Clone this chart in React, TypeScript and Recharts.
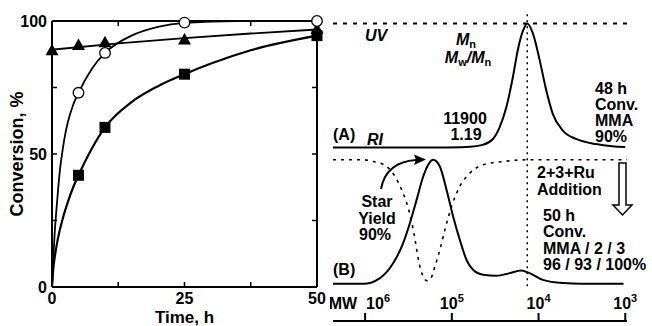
import React from "react";
import { ComposedChart, LineChart, Line, Scatter, XAxis, YAxis, ReferenceLine } from "recharts";

const FONT = "'Liberation Sans', Arial, Helvetica, sans-serif";

// left panel: conversion (%) vs time (h)
const triPoints = [
  { t: 0, v: 89 },
  { t: 5, v: 91 },
  { t: 10, v: 92 },
  { t: 25, v: 93 },
  { t: 50, v: 97 },
];
const circlePoints = [
  { t: 5, v: 73 },
  { t: 10, v: 88 },
  { t: 25, v: 99.4 },
  { t: 50, v: 100 },
];
const squarePoints = [
  { t: 5, v: 42 },
  { t: 10, v: 60 },
  { t: 25, v: 80 },
  { t: 50, v: 94.5 },
];

// fitted curves
const triFit = [
  { t: 0, v: 89.2 },
  { t: 12.5, v: 91.6 },
  { t: 25, v: 93.6 },
  { t: 37.5, v: 95.3 },
  { t: 50, v: 96.8 },
];
const circleFit = [
  { t: 0, v: 0 },
  { t: 0.25, v: 11 },
  { t: 0.5, v: 20 },
  { t: 1, v: 33 },
  { t: 1.5, v: 44 },
  { t: 2, v: 51.5 },
  { t: 2.5, v: 57.5 },
  { t: 3, v: 62 },
  { t: 4, v: 68.5 },
  { t: 5, v: 73 },
  { t: 7.5, v: 82 },
  { t: 10, v: 88 },
  { t: 15, v: 94.5 },
  { t: 20, v: 97.8 },
  { t: 25, v: 99.3 },
  { t: 35, v: 100 },
  { t: 50, v: 100 },
];
const squareFit = [
  { t: 0, v: 0 },
  { t: 0.25, v: 7 },
  { t: 0.5, v: 11 },
  { t: 1, v: 17 },
  { t: 2, v: 25.5 },
  { t: 3, v: 32 },
  { t: 4, v: 37.5 },
  { t: 5, v: 42 },
  { t: 7.5, v: 52 },
  { t: 10, v: 60 },
  { t: 15, v: 69.5 },
  { t: 20, v: 75.5 },
  { t: 25, v: 80 },
  { t: 30, v: 84 },
  { t: 37.5, v: 89 },
  { t: 50, v: 94.5 },
];

const T_MAX = 50;
const V_MAX = 100;
const timeTicks = [0, 25, 50];
const timeInnerTicks = [12.5, 25, 37.5];
const convTicks = [0, 50, 100];
const convInnerTicks = [25, 50, 75];

// top and right edges of the box, plus the inward tick marks on all four sides
const frameEdge = [
  { t: 0, v: V_MAX },
  { t: T_MAX, v: V_MAX },
  { t: T_MAX, v: 0 },
];
const innerTickMarks = [
  ...timeInnerTicks.map((t) => ({ t, v: 0, d: "up" })),
  ...timeInnerTicks.map((t) => ({ t, v: V_MAX, d: "down" })),
  ...convInnerTicks.map((v) => ({ t: 0, v, d: "right" })),
  ...convInnerTicks.map((v) => ({ t: T_MAX, v, d: "left" })),
];

// right panel: GPC traces, x = log10(MW), intensity normalised to the peak
const mwTicks = [6, 5, 4, 3];
const traceA = [
  { lm: 6.37, i: 0 },
  { lm: 5.2, i: 0 },
  { lm: 4.9, i: 0.002 },
  { lm: 4.79, i: 0.005 },
  { lm: 4.64, i: 0.022 },
  { lm: 4.525, i: 0.068 },
  { lm: 4.448, i: 0.163 },
  { lm: 4.371, i: 0.326 },
  { lm: 4.295, i: 0.57 },
  { lm: 4.238, i: 0.79 },
  { lm: 4.18, i: 0.94 },
  { lm: 4.13, i: 1.0 },
  { lm: 4.065, i: 0.92 },
  { lm: 3.989, i: 0.71 },
  { lm: 3.911, i: 0.46 },
  { lm: 3.836, i: 0.27 },
  { lm: 3.72, i: 0.136 },
  { lm: 3.567, i: 0.068 },
  { lm: 3.337, i: 0.027 },
  { lm: 3.15, i: 0.01 },
  { lm: 3.0, i: 0.004 },
];
const traceB = [
  { lm: 6.37, i: 0 },
  { lm: 6.02, i: 0 },
  { lm: 5.828, i: 0.046 },
  { lm: 5.675, i: 0.167 },
  { lm: 5.56, i: 0.33 },
  { lm: 5.483, i: 0.49 },
  { lm: 5.406, i: 0.677 },
  { lm: 5.33, i: 0.865 },
  { lm: 5.272, i: 0.96 },
  { lm: 5.215, i: 1.0 },
  { lm: 5.138, i: 0.946 },
  { lm: 5.061, i: 0.758 },
  { lm: 4.985, i: 0.543 },
  { lm: 4.908, i: 0.355 },
  { lm: 4.831, i: 0.194 },
  { lm: 4.755, i: 0.113 },
  { lm: 4.64, i: 0.073 },
  { lm: 4.486, i: 0.065 },
  { lm: 4.333, i: 0.086 },
  { lm: 4.199, i: 0.107 },
  { lm: 4.103, i: 0.086 },
  { lm: 3.95, i: 0.032 },
  { lm: 3.72, i: 0.006 },
  { lm: 3.5, i: 0 },
  { lm: 3.02, i: 0 },
];
const traceBRI = [
  { lm: 6.37, i: 1 },
  { lm: 6.02, i: 1 },
  { lm: 5.904, i: 0.987 },
  { lm: 5.75, i: 0.946 },
  { lm: 5.655, i: 0.865 },
  { lm: 5.578, i: 0.758 },
  { lm: 5.52, i: 0.651 },
  { lm: 5.463, i: 0.5 },
  { lm: 5.42, i: 0.34 },
  { lm: 5.387, i: 0.2 },
  { lm: 5.33, i: 0.059 },
  { lm: 5.29, i: 0.025 },
  { lm: 5.253, i: 0.032 },
  { lm: 5.195, i: 0.14 },
  { lm: 5.138, i: 0.274 },
  { lm: 5.08, i: 0.435 },
  { lm: 5.003, i: 0.623 },
  { lm: 4.908, i: 0.785 },
  { lm: 4.793, i: 0.892 },
  { lm: 4.64, i: 0.96 },
  { lm: 4.41, i: 0.986 },
  { lm: 4.14, i: 1 },
  { lm: 2.98, i: 1 },
];
const peakLogM = 4.13;

const A_OFFSET = 1.1; // trace (A) is stacked above trace (B)
const aData = traceA.map((d) => ({ lm: d.lm, y: d.i + A_OFFSET }));
const bData = traceB.map((d) => ({ lm: d.lm, y: d.i }));
const bRIData = traceBRI.map((d) => ({ lm: d.lm, y: d.i }));

const tickFont = { fill: "#000", fontSize: 16, fontWeight: "bold", fontFamily: FONT };
const frame = { stroke: "#000", strokeWidth: 2 };

const Triangle = (p: any) => (
  <path d={`M${p.cx},${p.cy - 6.5}L${p.cx + 6.5},${p.cy + 5}L${p.cx - 6.5},${p.cy + 5}Z`} fill="#000" />
);
const OpenCircle = (p: any) => <circle cx={p.cx} cy={p.cy} r={5.3} fill="#fff" stroke="#000" strokeWidth={1.3} />;
const Square = (p: any) => <rect x={p.cx - 5.5} y={p.cy - 5.5} width={11} height={11} fill="#000" />;

const TICK = 5;
const TICK_DIR: Record<string, [number, number]> = { up: [0, -1], down: [0, 1], right: [1, 0], left: [-1, 0] };
const InnerTick = (p: any) => {
  const dir = TICK_DIR[p.payload?.d] ?? [0, -1];
  return <line x1={p.cx} y1={p.cy} x2={p.cx + dir[0] * TICK} y2={p.cy + dir[1] * TICK} stroke="#000" strokeWidth={1.5} />;
};

const MwTick = (props: any) => {
  const { x, y, payload } = props;
  const first = payload.value === 6;
  return (
    <g style={{ fontFamily: FONT, fontWeight: "bold" }} fill="#000">
      {first && (
        <text x={x - 8} y={y} textAnchor="end" fontSize={16}>
          MW
        </text>
      )}
      <text x={first ? x + 1 : x} y={y} textAnchor={first ? "start" : "middle"} fontSize={16}>
        10
        <tspan dy={-7} fontSize={11}>
          {payload.value}
        </tspan>
      </text>
    </g>
  );
};

const Sub = ({ children }: { children: string }) => (
  <tspan fontSize={11} fontStyle="normal" dy={3}>
    {children}
  </tspan>
);

const LeftChart = () => (
  <ComposedChart width={330} height={326} margin={{ top: 21, right: 13, bottom: 0, left: 0 }}>
    <XAxis
      dataKey="t"
      type="number"
      domain={[0, T_MAX]}
      ticks={timeTicks}
      tickLine={false}
      tickSize={0}
      tickMargin={6}
      axisLine={frame}
      tick={tickFont}
      height={39}
      label={{ value: "Time, h", position: "insideBottom", offset: 3, fill: "#000", fontSize: 17, fontWeight: "bold", fontFamily: FONT }}
    />
    <YAxis
      dataKey="v"
      type="number"
      domain={[0, V_MAX]}
      ticks={convTicks}
      tickLine={false}
      tickSize={0}
      tickMargin={5}
      axisLine={frame}
      tick={tickFont}
      width={52}
      label={{ value: "Conversion, %", angle: -90, position: "insideLeft", offset: 17, fill: "#000", fontSize: 18, fontWeight: "bold", fontFamily: FONT, style: { textAnchor: "middle" } }}
    />
    <Line data={frameEdge} dataKey="v" type="linear" dot={false} stroke="#000" strokeWidth={2} isAnimationActive={false} />
    <Scatter data={innerTickMarks} dataKey="v" shape={InnerTick} isAnimationActive={false} />
    <Line data={triFit} dataKey="v" type="monotone" dot={false} stroke="#000" strokeWidth={1.8} isAnimationActive={false} />
    <Line data={circleFit} dataKey="v" type="monotone" dot={false} stroke="#000" strokeWidth={1.8} isAnimationActive={false} />
    <Line data={squareFit} dataKey="v" type="monotone" dot={false} stroke="#000" strokeWidth={2.2} isAnimationActive={false} />
    <Scatter data={triPoints} dataKey="v" shape={Triangle} isAnimationActive={false} />
    <Scatter data={circlePoints} dataKey="v" shape={OpenCircle} isAnimationActive={false} />
    <Scatter data={squarePoints} dataKey="v" shape={Square} isAnimationActive={false} />
  </ComposedChart>
);

const RightChart = () => (
  <LineChart width={322} height={326} margin={{ top: 11, right: 25, bottom: 5, left: 3 }}>
    <XAxis
      dataKey="lm"
      type="number"
      domain={[2.98, 6.37]}
      reversed
      ticks={mwTicks}
      mirror
      height={1}
      axisLine={frame}
      tickLine={frame}
      tickSize={8}
      tickMargin={4}
      tick={<MwTick />}
    />
    <YAxis hide type="number" domain={[-0.3, 2.2]} />
    <ReferenceLine y={A_OFFSET + 1} stroke="#000" strokeWidth={2} strokeDasharray="4 6" />
    <ReferenceLine
      segment={[
        { x: peakLogM, y: -0.02 },
        { x: peakLogM, y: 2.19 },
      ]}
      stroke="#000"
      strokeWidth={1.5}
      strokeDasharray="2 4"
    />
    <Line data={bRIData} dataKey="y" type="monotone" dot={false} stroke="#000" strokeWidth={1.6} strokeDasharray="3 5" isAnimationActive={false} />
    <Line data={aData} dataKey="y" type="monotone" dot={false} stroke="#000" strokeWidth={2} isAnimationActive={false} />
    <Line data={bData} dataKey="y" type="monotone" dot={false} stroke="#000" strokeWidth={2} isAnimationActive={false} />
  </LineChart>
);

const Notes = () => (
  <svg width={652} height={326} style={{ position: "absolute", left: 0, top: 0, pointerEvents: "none" }}>
    <g fill="#000" fontFamily={FONT} fontWeight="bold" fontSize={16}>
      <text x={365} y={41} fontStyle="italic">UV</text>
      <text x={466} y={45} textAnchor="middle" fontStyle="italic">
        M<Sub>n</Sub>
      </text>
      <text x={468} y={63} textAnchor="middle" fontStyle="italic">
        M<Sub>w</Sub>
        <tspan dy={-3}>/M</tspan>
        <Sub>n</Sub>
      </text>
      <text x={465} y={124} textAnchor="middle">11900</text>
      <text x={466} y={140} textAnchor="middle">1.19</text>
      <text x={333} y={140}>(A)</text>
      <text x={367} y={145} fontStyle="italic">RI</text>
      <text x={595} y={94}>48 h</text>
      <text x={595} y={110}>Conv.</text>
      <text x={595} y={126}>MMA</text>
      <text x={595} y={142}>90%</text>

      <text x={377} y={207} textAnchor="middle">Star</text>
      <text x={377} y={224} textAnchor="middle">Yield</text>
      <text x={375} y={240} textAnchor="middle">90%</text>
      <text x={333} y={275}>(B)</text>
      <text x={537} y={178}>2+3+Ru</text>
      <text x={537} y={195}>Addition</text>
      <text x={543} y={221}>50 h</text>
      <text x={543} y={237}>Conv.</text>
      <text x={543} y={253.5}>MMA / 2 / 3</text>
      <text x={543} y={270}>96 / 93 / 100%</text>
    </g>
    <path d="M381,189 Q386,162 416,160" fill="none" stroke="#000" strokeWidth={2} />
    <path d="M426,159.5 L414,154.5 L416,159.8 L414,165 Z" fill="#000" />
    <path d="M619,163 L626,163 L626,205 L632,205 L622.5,215 L613,205 L619,205 Z" fill="#fff" stroke="#000" strokeWidth={1.5} />
  </svg>
);

export default function App() {
  return (
    <div style={{ position: "absolute", left: 0, top: 0, width: 652, height: 326, background: "#fff" }}>
      <div style={{ position: "absolute", left: 0, top: 0 }}>
        <LeftChart />
      </div>
      <div style={{ position: "absolute", left: 330, top: 0 }}>
        <RightChart />
      </div>
      <Notes />
    </div>
  );
}
